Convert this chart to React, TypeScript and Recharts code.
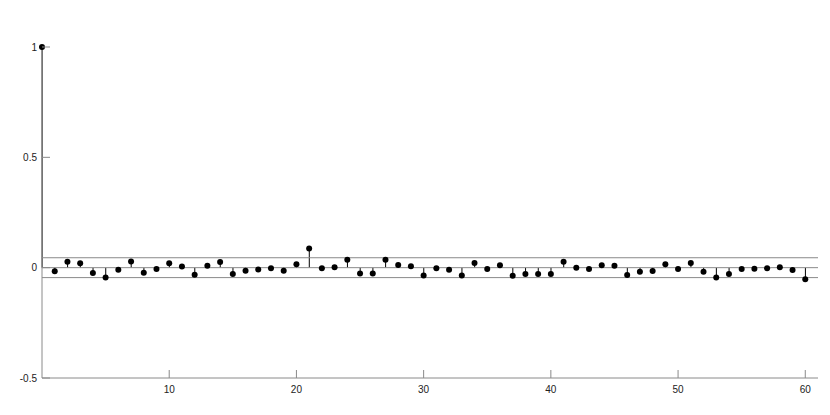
import React from 'react';
import { ComposedChart, Bar, Scatter, XAxis, YAxis, ReferenceLine } from 'recharts';

const LAGS = [
  0, 1, 2, 3, 4, 5, 6, 7, 8, 9, 10, 11, 12, 13, 14, 15, 16, 17, 18, 19, 20,
  21, 22, 23, 24, 25, 26, 27, 28, 29, 30, 31, 32, 33, 34, 35, 36, 37, 38, 39, 40,
  41, 42, 43, 44, 45, 46, 47, 48, 49, 50, 51, 52, 53, 54, 55, 56, 57, 58, 59, 60,
];

const ACF = [
  1, -0.016, 0.027, 0.02, -0.024, -0.044, -0.009, 0.028, -0.023, -0.006, 0.02,
  0.005, -0.032, 0.009, 0.026, -0.029, -0.014, -0.008, -0.003, -0.014, 0.015,
  0.087, -0.003, 0.002, 0.036, -0.027, -0.026, 0.036, 0.012, 0.006, -0.035,
  -0.003, -0.009, -0.035, 0.021, -0.006, 0.011, -0.037, -0.029, -0.029, -0.029,
  0.027, 0.0, -0.006, 0.011, 0.009, -0.033, -0.018, -0.015, 0.015, -0.006,
  0.021, -0.018, -0.044, -0.029, -0.006, -0.005, -0.003, 0.002, -0.011, -0.053,
];

const BOUND = 0.045;
const X_TICKS = [10, 20, 30, 40, 50, 60];
const Y_TICKS = [-0.5, 0, 0.5, 1];

const data = LAGS.map((lag, i) => ({ lag, acf: ACF[i] }));

const AXIS = '#8a8a8a';
const FONT = '"Liberation Sans", Arial, sans-serif';

const Stem = (props: any) => {
  const { x, y, width, height } = props;
  if (x == null || y == null) return null;
  const cx = x + width / 2;
  return <line x1={cx} x2={cx} y1={y} y2={y + height} stroke="#000" strokeWidth={1} />;
};

const Dot = (props: any) => {
  const { cx, cy } = props;
  if (cx == null || cy == null) return null;
  return <circle cx={cx} cy={cy} r={3} fill="#000" />;
};

const YTick = (props: any) => {
  const { x, y, payload } = props;
  return (
    <g>
      <line x1={x + 5} x2={x + 13} y1={y} y2={y} stroke={AXIS} strokeWidth={1} />
      <text x={x} y={y} dy="0.35em" textAnchor="end" fontSize={10} fontFamily={FONT} fill="#222">
        {payload.value}
      </text>
    </g>
  );
};

const XTick = (props: any) => {
  const { x, y, payload } = props;
  return (
    <g>
      <line x1={x} x2={x} y1={y} y2={y - 8} stroke={AXIS} strokeWidth={1} />
      <text x={x} y={y + 11} dy="0.35em" textAnchor="middle" fontSize={10} fontFamily={FONT} fill="#222">
        {payload.value}
      </text>
    </g>
  );
};

const App: React.FC = () => {
  return (
    <div style={{ position: 'absolute', left: 0, top: 0, width: 830, height: 415, background: '#fff' }}>
      <ComposedChart width={830} height={415} data={data} margin={{ top: 47, right: 12, bottom: 0, left: 0 }}>
        <XAxis
          dataKey="lag"
          type="number"
          domain={[0, 61]}
          ticks={X_TICKS}
          height={37}
          tickSize={0}
          tickMargin={0}
          tickLine={false}
          axisLine={{ stroke: AXIS, strokeWidth: 1 }}
          tick={<XTick />}
          interval={0}
        />
        <YAxis
          type="number"
          domain={[-0.5, 1]}
          ticks={Y_TICKS}
          width={42}
          tickSize={0}
          tickMargin={5}
          tickLine={false}
          axisLine={{ stroke: AXIS, strokeWidth: 1 }}
          tick={<YTick />}
          interval={0}
        />
        <ReferenceLine y={BOUND} stroke={AXIS} strokeWidth={1} />
        <ReferenceLine y={0} stroke={AXIS} strokeWidth={1} />
        <ReferenceLine y={-BOUND} stroke={AXIS} strokeWidth={1} />
        <Bar dataKey="acf" barSize={1} shape={<Stem />} isAnimationActive={false} />
        <Scatter dataKey="acf" shape={<Dot />} isAnimationActive={false} />
      </ComposedChart>
    </div>
  );
};

export default App;
